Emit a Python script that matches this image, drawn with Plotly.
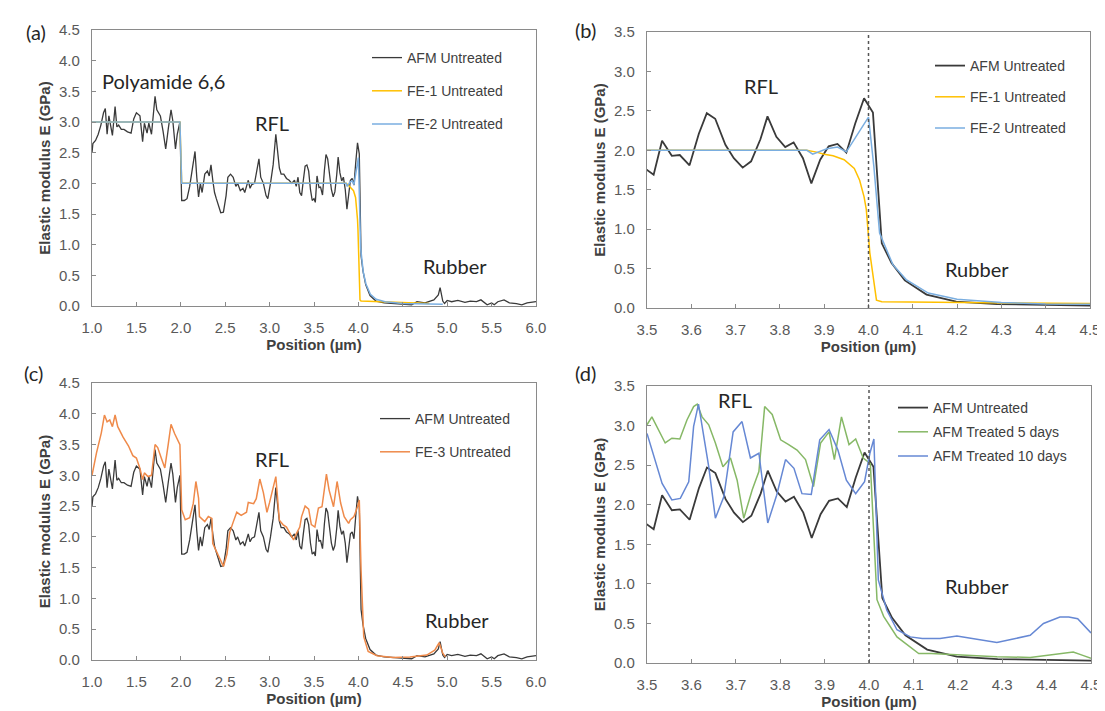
import plotly.graph_objects as go
from plotly.subplots import make_subplots

# AFM untreated profile (same scan used in all four panels)
afm_pos = [1.00, 1.01, 1.04, 1.07, 1.10, 1.13, 1.15, 1.17, 1.19, 1.21,
           1.23, 1.26, 1.28, 1.30, 1.33, 1.36, 1.40, 1.44, 1.47, 1.50,
           1.54, 1.57, 1.59, 1.62, 1.64, 1.67, 1.69, 1.71, 1.73, 1.75,
           1.77, 1.80, 1.83, 1.86, 1.89, 1.91, 1.94, 1.96, 1.99, 2.00,
           2.01, 2.04, 2.07, 2.10, 2.13, 2.16, 2.18, 2.20, 2.22, 2.24,
           2.27, 2.30, 2.32, 2.34, 2.36, 2.38, 2.40, 2.43, 2.45, 2.48,
           2.51, 2.53, 2.56, 2.59, 2.62, 2.64, 2.67, 2.70, 2.72, 2.74,
           2.76, 2.78, 2.80, 2.83, 2.86, 2.88, 2.90, 2.93, 2.96, 2.98,
           3.01, 3.04, 3.07, 3.09, 3.11, 3.13, 3.16, 3.19, 3.22, 3.25,
           3.28, 3.30, 3.32, 3.34, 3.36, 3.38, 3.40, 3.42, 3.44, 3.46,
           3.48, 3.500, 3.515, 3.534, 3.556, 3.574, 3.596, 3.617, 3.635, 3.654,
           3.677, 3.696, 3.716, 3.735, 3.756, 3.772, 3.792, 3.812, 3.831, 3.852,
           3.871, 3.891, 3.910, 3.930, 3.950, 3.970, 3.990, 4.010, 4.030, 4.052,
           4.082, 4.131, 4.198, 4.290, 4.400, 4.500, 4.60, 4.66, 4.75, 4.85,
           4.90, 4.92, 4.95, 4.97, 5.00, 5.05, 5.12, 5.20, 5.26, 5.33,
           5.38, 5.45, 5.50, 5.53, 5.57, 5.64, 5.70, 5.78, 5.84, 5.90,
           5.97, 6.00]
afm_e = [2.50, 2.65, 2.70, 2.80, 2.95, 3.15, 3.22, 2.80, 3.10, 2.90,
         2.78, 3.25, 2.92, 2.95, 2.88, 2.88, 2.84, 2.82, 3.05, 3.15,
         3.10, 2.68, 2.98, 2.82, 2.98, 2.80, 3.10, 3.42, 3.20, 3.15,
         3.10, 2.85, 2.56, 2.90, 3.20, 3.02, 2.56, 2.80, 3.00, 2.30,
         1.72, 1.72, 1.75, 1.95, 2.20, 2.52, 2.10, 1.78, 2.00, 1.85,
         2.15, 2.20, 2.12, 2.30, 2.05, 1.85, 1.75, 1.60, 1.52, 1.53,
         1.80, 2.10, 2.15, 2.10, 1.95, 2.00, 1.88, 1.92, 1.85, 1.95,
         2.05, 1.92, 1.98, 2.00, 2.25, 2.40, 2.10, 2.00, 1.80, 1.75,
         2.00, 2.30, 2.80, 2.50, 2.25, 2.15, 2.15, 2.08, 2.05, 2.00,
         2.05, 1.95, 2.10, 1.85, 1.80, 2.05, 2.28, 2.30, 2.20, 1.90,
         1.72, 1.75, 1.69, 2.12, 1.93, 1.94, 1.81, 2.21, 2.47, 2.40,
         2.07, 1.90, 1.78, 1.86, 2.14, 2.43, 2.17, 2.04, 2.10, 1.90,
         1.58, 1.88, 2.05, 2.08, 1.97, 2.34, 2.66, 2.48, 0.82, 0.57,
         0.35, 0.17, 0.08, 0.05, 0.04, 0.03, 0.02, 0.07, 0.05, 0.10,
         0.18, 0.30, 0.08, 0.04, 0.09, 0.07, 0.09, 0.06, 0.08, 0.07,
         0.10, 0.02, 0.05, 0.02, 0.07, 0.10, 0.05, 0.04, 0.02, 0.05,
         0.07, 0.07]

# FE-1 untreated
fe1_pos = [1.0, 1.99, 2.01, 3.86, 3.88, 3.90, 3.92, 3.945, 3.968, 3.98,
           3.99, 3.995, 4.003, 4.018, 4.03, 4.2, 4.5, 4.8]
fe1_e = [3.0, 3.0, 2.0, 2.0, 1.98, 1.95, 1.93, 1.88, 1.77, 1.62,
         1.41, 1.25, 0.70, 0.10, 0.08, 0.07, 0.05, 0.04]

# FE-2 untreated
fe2_pos = [1.0, 1.99, 2.01, 3.861, 3.874, 3.906, 3.93, 3.95, 4.0, 4.012,
           4.025, 4.055, 4.085, 4.135, 4.2, 4.3, 4.4, 4.5, 4.95]
fe2_e = [3.0, 3.0, 2.0, 2.0, 1.95, 2.02, 2.04, 1.98, 2.42, 1.80,
         0.95, 0.55, 0.36, 0.19, 0.11, 0.07, 0.05, 0.04, 0.03]

# FE-3 untreated
fe3_pos = [1.00, 1.05, 1.105, 1.14, 1.17, 1.20, 1.23, 1.26, 1.29, 1.35,
           1.41, 1.46, 1.50, 1.54, 1.57, 1.59, 1.63, 1.67, 1.71, 1.74,
           1.78, 1.82, 1.86, 1.89, 1.93, 1.97, 1.99, 2.01, 2.05, 2.10,
           2.14, 2.17, 2.20, 2.21, 2.27, 2.31, 2.35, 2.36, 2.40, 2.44,
           2.48, 2.52, 2.55, 2.59, 2.63, 2.68, 2.74, 2.76, 2.82, 2.85,
           2.89, 2.93, 2.97, 3.00, 3.04, 3.07, 3.11, 3.15, 3.19, 3.23,
           3.27, 3.30, 3.34, 3.36, 3.40, 3.44, 3.47, 3.51, 3.55, 3.59,
           3.64, 3.67, 3.72, 3.76, 3.80, 3.84, 3.89, 3.91, 3.95, 3.99,
           4.01, 4.03, 4.06, 4.11, 4.21, 4.39, 4.58, 4.77, 4.86, 4.91,
           4.95, 4.98]
fe3_e = [3.00, 3.36, 3.69, 3.98, 3.87, 3.90, 3.79, 3.98, 3.79, 3.62,
         3.48, 3.32, 3.28, 3.11, 2.93, 3.04, 2.98, 3.00, 3.50, 3.45,
         3.28, 3.12, 3.52, 3.83, 3.68, 3.55, 3.50, 2.44, 2.28, 2.31,
         2.54, 2.90, 2.63, 2.33, 2.25, 2.33, 2.30, 1.89, 1.76, 1.62,
         1.52, 1.72, 2.07, 2.24, 2.40, 2.35, 2.40, 2.56, 2.54, 2.62,
         2.94, 2.72, 2.40, 2.56, 2.83, 2.98, 2.27, 2.20, 2.16, 2.05,
         1.95, 2.05, 2.16, 2.33, 2.50, 2.45, 2.20, 2.16, 2.47, 2.49,
         3.02, 2.76, 2.49, 2.90, 2.55, 2.33, 2.22, 2.28, 2.33, 2.49,
         2.60, 1.46, 0.38, 0.14, 0.07, 0.04, 0.05, 0.08, 0.16, 0.28,
         0.11, 0.05]

# AFM treated 5 days
t5_pos = [3.500, 3.511, 3.541, 3.556, 3.574, 3.590, 3.605, 3.613, 3.624, 3.639,
          3.654, 3.671, 3.688, 3.703, 3.718, 3.737, 3.752, 3.765, 3.782, 3.801,
          3.819, 3.838, 3.857, 3.875, 3.891, 3.910, 3.922, 3.938, 3.955, 3.970,
          3.987, 4.003, 4.018, 4.033, 4.063, 4.112, 4.140, 4.213, 4.288, 4.363,
          4.439, 4.460, 4.480, 4.500]
t5_e = [3.01, 3.11, 2.78, 2.84, 2.83, 3.07, 3.24, 3.27, 3.11, 3.01,
        2.78, 2.48, 2.59, 2.31, 1.83, 2.19, 2.42, 3.24, 3.14, 2.82,
        2.76, 2.69, 2.57, 2.23, 2.78, 2.92, 2.57, 3.11, 2.76, 2.83,
        2.59, 2.52, 0.80, 0.59, 0.33, 0.12, 0.12, 0.10, 0.08, 0.07,
        0.13, 0.14, 0.10, 0.06]

# AFM treated 10 days
t10_pos = [3.500, 3.515, 3.534, 3.556, 3.575, 3.594, 3.605, 3.616, 3.628, 3.639,
           3.654, 3.673, 3.694, 3.714, 3.733, 3.752, 3.772, 3.792, 3.812, 3.831,
           3.849, 3.870, 3.889, 3.910, 3.930, 3.949, 3.970, 3.990, 4.002, 4.011,
           4.021, 4.040, 4.063, 4.093, 4.120, 4.160, 4.198, 4.235, 4.288, 4.330,
           4.363, 4.393, 4.430, 4.450, 4.470, 4.500]
t10_e = [2.90, 2.61, 2.27, 2.06, 2.08, 2.29, 2.99, 3.27, 2.86, 2.48,
         1.83, 2.10, 2.92, 3.05, 2.59, 2.65, 1.77, 2.12, 2.57, 2.46,
         2.14, 2.13, 2.82, 2.95, 2.69, 2.31, 2.14, 2.29, 2.65, 2.83,
         1.05, 0.67, 0.42, 0.33, 0.31, 0.31, 0.34, 0.31, 0.26, 0.31,
         0.35, 0.50, 0.58, 0.58, 0.56, 0.38]

interface = 4.0

BLACK = '#3a3a3a'
YELLOW = '#ffc000'
LBLUE = '#7aaee0'
ORANGE = '#ef8a4a'
GREEN = '#86b866'
BLUE = '#6688d4'

# the page body has an 8px margin, so the figure is drawn 8px smaller and
# every pixel position below is shifted by it
PAGE = 8
W, H = 1105 - PAGE, 711 - PAGE

fig = make_subplots(rows=2, cols=2)


def add(x, y, name, color, row, col, legend, width=1.5):
    fig.add_trace(go.Scatter(x=x, y=y, mode='lines', name=name,
                             line=dict(color=color, width=width),
                             legend=legend, legendgroup=legend + name),
                  row=row, col=col)


add(afm_pos, afm_e, 'AFM Untreated', BLACK, 1, 1, 'legend', 1.3)
add(fe1_pos, fe1_e, 'FE-1 Untreated', YELLOW, 1, 1, 'legend')
add(fe2_pos, fe2_e, 'FE-2 Untreated', LBLUE, 1, 1, 'legend')

add(afm_pos, afm_e, 'AFM Untreated', BLACK, 1, 2, 'legend2', 1.8)
add(fe1_pos, fe1_e, 'FE-1 Untreated', YELLOW, 1, 2, 'legend2')
add(fe2_pos, fe2_e, 'FE-2 Untreated', LBLUE, 1, 2, 'legend2')

add(afm_pos, afm_e, 'AFM Untreated', BLACK, 2, 1, 'legend3', 1.3)
add(fe3_pos, fe3_e, 'FE-3 Untreated', ORANGE, 2, 1, 'legend3')

add(afm_pos, afm_e, 'AFM Untreated', BLACK, 2, 2, 'legend4', 1.8)
add(t5_pos, t5_e, 'AFM Treated 5 days', GREEN, 2, 2, 'legend4')
add(t10_pos, t10_e, 'AFM Treated 10 days', BLUE, 2, 2, 'legend4')


def px(v):
    return (v - PAGE) / W


def py(v):
    return 1 - (v - PAGE) / H


# plot areas in pixels of the 1105x711 picture: left, right, top, bottom
boxes = {1: (92, 536, 30, 306), 2: (647, 1090, 32, 308),
         3: (92, 536, 383, 660), 4: (647, 1091, 386, 663)}
xr = {1: [1, 6], 2: [3.5, 4.5], 3: [1, 6], 4: [3.5, 4.5]}
yr = {1: [0, 4.5], 2: [0, 3.5], 3: [0, 4.5], 4: [0, 3.5]}
xd = {1: 0.5, 2: 0.1, 3: 0.5, 4: 0.1}

axis_common = dict(showline=True, mirror=True, linecolor='#8a8a8a', linewidth=1.3,
                   ticks='inside', ticklen=4, tickcolor='#8a8a8a',
                   showgrid=False, zeroline=False, tickformat='.1f',
                   tickfont=dict(family='Liberation Sans, Arial', size=15, color='#595959'))
title_font = dict(family='Liberation Sans, Arial', size=15, color='#404040')

for i in range(1, 5):
    l, r, t, b = boxes[i]
    sx = '' if i == 1 else str(i)
    fig.layout['xaxis' + sx].update(domain=[px(l), px(r)], range=xr[i], dtick=xd[i],
                                    tick0=xr[i][0], ticklabelstandoff=8,
                                    title=dict(text='<b>Position (µm)</b>', font=title_font,
                                               standoff=4),
                                    **axis_common)
    fig.layout['yaxis' + sx].update(domain=[py(b), py(t)], range=yr[i], dtick=0.5,
                                    ticklabelstandoff=8,
                                    title=dict(text='<b>Elastic modulus E (GPa)</b>',
                                               font=title_font, standoff=4),
                                    **axis_common)

# dotted interface marker in (b) and (d)
for ax in ['2', '4']:
    fig.add_shape(type='line', xref='x' + ax, yref='y' + ax + ' domain',
                  x0=interface, x1=interface, y0=0, y1=1,
                  line=dict(color='#555555', width=1.5, dash='dot'))

leg_font = dict(family='Liberation Sans, Arial', size=14, color='#404040')
legends = {'legend': (367, 42, 12), 'legend2': (930, 50, 10),
           'legend3': (375, 403, 12), 'legend4': (893, 392, 3)}
for name, (lx, ly, gap) in legends.items():
    fig.layout[name] = dict(x=px(lx), y=py(ly), xanchor='left', yanchor='top',
                            bgcolor='rgba(0,0,0,0)', font=leg_font, itemwidth=30,
                            tracegroupgap=gap)

label_font = dict(family='Lato', size=20, color='#262626')
notes = [('x', 'y', 1.81, 3.67, 'Polyamide 6,6'), ('x', 'y', 3.03, 2.99, 'RFL'),
         ('x', 'y', 5.09, 0.65, 'Rubber'),
         ('x2', 'y2', 3.757, 2.81, 'RFL'), ('x2', 'y2', 4.244, 0.49, 'Rubber'),
         ('x3', 'y3', 3.03, 3.27, 'RFL'), ('x3', 'y3', 5.11, 0.65, 'Rubber'),
         ('x4', 'y4', 3.698, 3.32, 'RFL'), ('x4', 'y4', 4.243, 0.97, 'Rubber')]
for xref, yref, x, y, txt in notes:
    fig.add_annotation(xref=xref, yref=yref, x=x, y=y, text=txt, showarrow=False,
                       font=label_font)

for txt, (lx, ly) in {'(a)': (24, 18), '(b)': (585, 16),
                      '(c)': (22, 373), '(d)': (585, 373)}.items():
    fig.add_annotation(xref='paper', yref='paper', x=px(lx), y=py(ly), text=txt,
                       showarrow=False, font=dict(family='Lato', size=20, color='#262626'))

fig.update_layout(width=W, height=H,
                  margin=dict(l=0, r=0, t=0, b=0, autoexpand=False),
                  plot_bgcolor='white', paper_bgcolor='white', showlegend=True)

fig.write_html('out.html')
